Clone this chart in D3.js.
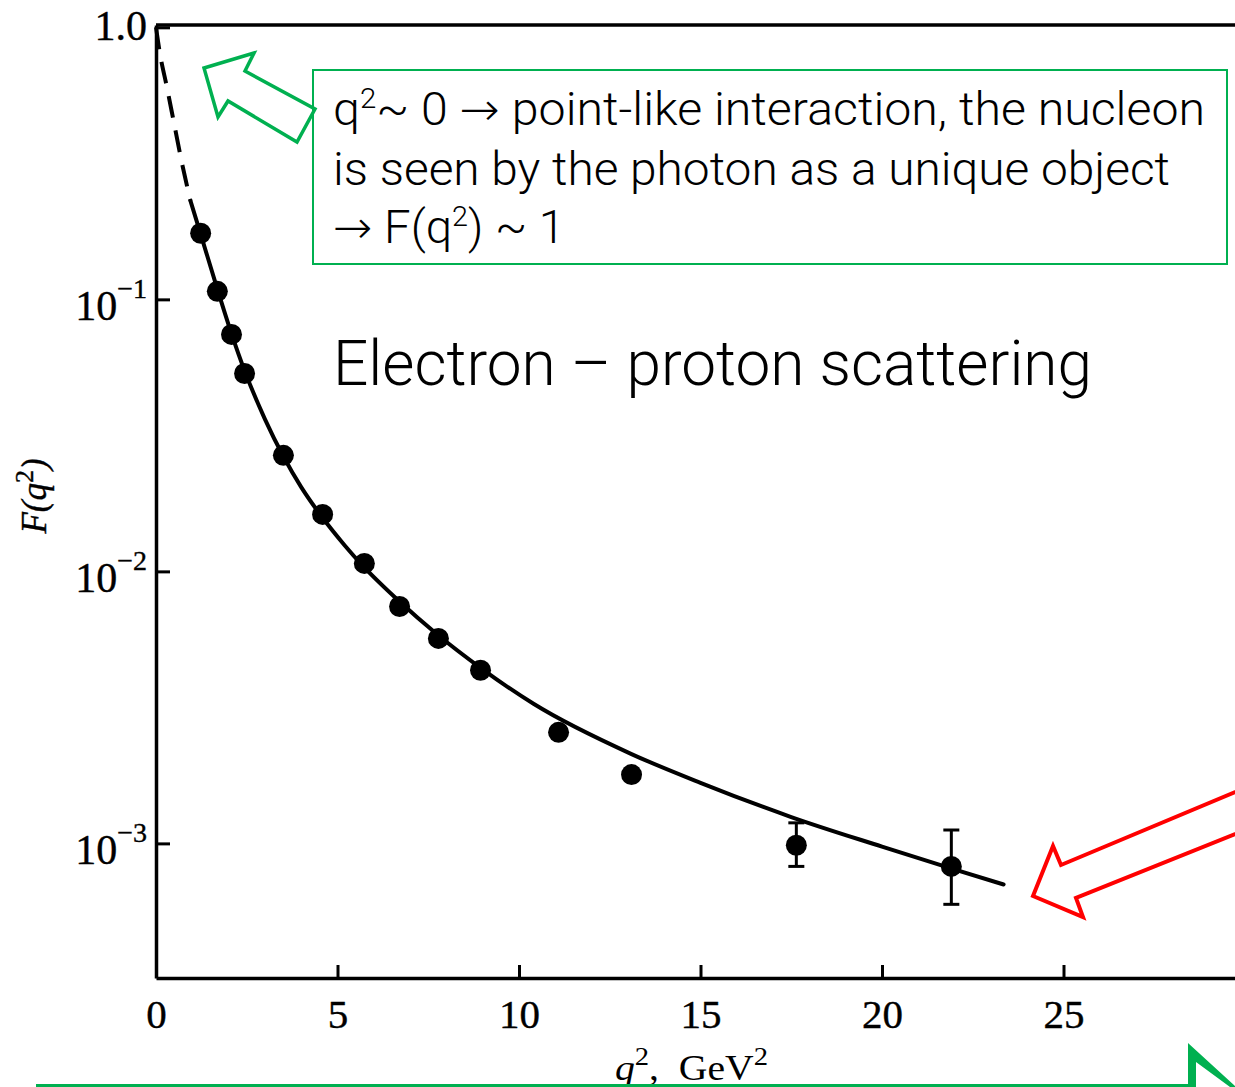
<!DOCTYPE html>
<html>
<head>
<meta charset="utf-8">
<script src="https://cdn.jsdelivr.net/npm/d3@7"></script>
<style>
  body { margin: 0; background: #ffffff; }
  svg { display: block; }
</style>
</head>
<body>
<div id="my_dataviz"></div>
<script>
// measured form factor, q^2 in GeV^2
var q2 = [1.23, 1.69, 2.08, 2.44, 3.51, 4.59, 5.74, 6.71, 7.78, 8.94, 11.09, 13.10, 17.64, 21.91]
var formFactor = [0.175, 0.107, 0.0743, 0.0534, 0.0267, 0.0162, 0.0107, 0.00743, 0.00567, 0.00433, 0.00256, 0.00179, 0.000984, 0.000823]
// error bars (only the two last points have visible ones)
var errLow = [null, null, null, null, null, null, null, null, null, null, null, null, 0.000823, 0.000597]
var errHigh = [null, null, null, null, null, null, null, null, null, null, null, null, 0.00119, 0.00112]

// solid curve
var fitQ2 = [0.95, 1.23, 1.69, 2.07, 2.44, 3.0, 3.5, 4.0, 4.6, 5.2, 5.7, 6.7, 7.75, 8.94, 10.4, 13.1, 15.0, 17.5, 20.0, 21.9, 23.35]
var fitF = [0.2301, 0.1738, 0.1091, 0.0755, 0.0547, 0.0363, 0.0266, 0.0204, 0.01567, 0.01245, 0.01047, 0.00776, 0.00586, 0.00442, 0.00326, 0.00213, 0.00167, 0.00125, 0.000973, 0.000809, 0.000706]
// dashed extrapolation down to q^2 = 0
var extrapQ2 = [0, 0.1, 0.3, 0.5, 0.7, 0.95]
var extrapF = [1.0, 0.813, 0.603, 0.442, 0.324, 0.2301]

var xTicks = [0, 5, 10, 15, 20, 25]
var yTicks = [1, 0.1, 0.01, 0.001]
var yTickBase = ["1.0", "10", "10", "10"]
var yTickExp = ["", "\u22121", "\u22122", "\u22123"]

var width = 1235
    height = 1087

var svg = d3.select("#my_dataviz")
  .append("svg")
    .attr("width", width)
    .attr("height", height)

var x = d3.scaleLinear()
  .domain([0, 30])
  .range([156, 156 + 30 * 36.3])

var y = d3.scaleLog()
  .domain([3.2e-4, 1.02])
  .range([978, 25])

var serif = "'Liberation Serif', 'Times New Roman', serif"
var sans = "Roboto, 'Liberation Sans', Arial, sans-serif"
var green = "#00b050"

// top edge of the frame
svg.append("line")
  .attr("x1", x(0))
  .attr("x2", width + 10)
  .attr("y1", y(1.02))
  .attr("y2", y(1.02))
  .style("stroke", "#000")
  .style("stroke-width", 3.5)

// y axis, ticks pointing inward
var yAxis = svg.append("g")
  .attr("transform", "translate(" + x(0) + ",0)")
  .call(d3.axisLeft(y).tickValues(yTicks).tickSizeInner(-14).tickSizeOuter(0).tickFormat(""))
yAxis.select(".domain").style("stroke-width", 3.5)
yAxis.selectAll(".tick line").style("stroke-width", 3)

// x axis
var xAxis = svg.append("g")
  .attr("transform", "translate(0," + y(3.2e-4) + ")")
  .call(d3.axisBottom(x).tickValues(xTicks).tickSizeInner(-13).tickSizeOuter(0).tickPadding(21).tickFormat(d3.format("d")))
xAxis.select(".domain").style("stroke-width", 3.5)
xAxis.selectAll(".tick line").style("stroke-width", 3)
xAxis.selectAll(".tick text")
  .style("font-family", serif)
  .style("font-size", "41px")
  .style("fill", "#000")
  .style("stroke", "#000")
  .style("stroke-width", 0.4)

// y tick labels with exponents
var yLab = svg.selectAll("ylabels")
  .data(yTicks)
  .enter()
  .append("text")
    .attr("x", 147)
    .attr("y", function(d, i){ return i == 0 ? y(d) + 13 : y(d) + 21 })
    .attr("text-anchor", "end")
    .style("font-family", serif)
    .style("font-size", "42px")
    .style("stroke", "#000")
    .style("stroke-width", 0.4)
yLab.append("tspan")
  .text(function(d, i){ return yTickBase[i] })
yLab.append("tspan")
  .attr("dy", -22)
  .style("font-size", "28px")
  .text(function(d, i){ return yTickExp[i] })

// axis titles
var yTitle = svg.append("text")
  .attr("transform", "translate(46,496) rotate(-90)")
  .attr("text-anchor", "middle")
  .style("font-family", serif)
  .style("font-style", "italic")
  .style("font-size", "35px")
  .style("stroke", "#000")
  .style("stroke-width", 0.4)
yTitle.append("tspan").text("F(q")
yTitle.append("tspan").attr("dy", -13).style("font-size", "26px").style("font-style", "normal").text("2")
yTitle.append("tspan").attr("dy", 13).text(")")

var xTitle = svg.append("text")
  .attr("x", 615)
  .attr("y", 1080)
  .attr("textLength", 153)
  .attr("lengthAdjust", "spacingAndGlyphs")
  .style("font-family", serif)
  .style("font-size", "36px")
xTitle.append("tspan").style("font-style", "italic").text("q")
xTitle.append("tspan").attr("dy", -15).style("font-size", "26px").text("2")
xTitle.append("tspan").attr("dy", 15).text(",\u00a0\u00a0GeV")
xTitle.append("tspan").attr("dy", -15).style("font-size", "26px").text("2")

// dashed extrapolation and solid curve
var line = d3.line()
  .x(function(d){ return x(d[0]) })
  .y(function(d){ return y(d[1]) })
  .curve(d3.curveMonotoneX)

svg.append("path")
  .datum(d3.zip(extrapQ2, extrapF))
  .attr("d", line)
  .style("fill", "none")
  .style("stroke", "#000")
  .style("stroke-width", 4)
  .style("stroke-dasharray", "22,13")

svg.append("path")
  .datum(d3.zip(fitQ2, fitF))
  .attr("d", line)
  .style("fill", "none")
  .style("stroke", "#000")
  .style("stroke-width", 4)
  .style("stroke-linecap", "round")

// error bars
var errData = q2.map(function(d, i){ return {x: d, lo: errLow[i], hi: errHigh[i]} })
  .filter(function(d){ return d.lo != null })
var eb = svg.selectAll("errbars")
  .data(errData)
  .enter()
  .append("g")
    .style("stroke", "#000")
    .style("stroke-width", 3)
eb.append("line")
  .attr("x1", function(d){ return x(d.x) })
  .attr("x2", function(d){ return x(d.x) })
  .attr("y1", function(d){ return y(d.lo) })
  .attr("y2", function(d){ return y(d.hi) })
eb.append("line")
  .attr("x1", function(d){ return x(d.x) - 8 })
  .attr("x2", function(d){ return x(d.x) + 8 })
  .attr("y1", function(d){ return y(d.lo) })
  .attr("y2", function(d){ return y(d.lo) })
eb.append("line")
  .attr("x1", function(d){ return x(d.x) - 8 })
  .attr("x2", function(d){ return x(d.x) + 8 })
  .attr("y1", function(d){ return y(d.hi) })
  .attr("y2", function(d){ return y(d.hi) })

// data points
svg.selectAll("mydots")
  .data(d3.zip(q2, formFactor))
  .enter()
  .append("circle")
    .attr("cx", function(d){ return x(d[0]) })
    .attr("cy", function(d){ return y(d[1]) })
    .attr("r", 10.5)
    .style("fill", "#000")

// annotation box
svg.append("rect")
  .attr("x", 313)
  .attr("y", 70)
  .attr("width", 914)
  .attr("height", 194)
  .style("fill", "none")
  .style("stroke", green)
  .style("stroke-width", 2)

var note = [
  {y: 125, w: 872, parts: [["q", 0], ["2", 1], ["~ 0 ", 0], ["\u2192", 2], [" point-like interaction, the nucleon", 0]]},
  {y: 185, w: 837, parts: [["is seen by the photon as a unique object", 0]]},
  {y: 243, w: 232, parts: [["\u2192", 2], [" F(q", 0], ["2", 1], [") ~ 1", 0]]}
]
note.forEach(function(n){
  var t = svg.append("text")
    .attr("x", 333)
    .attr("y", n.y)
    .attr("textLength", n.w)
    .attr("lengthAdjust", "spacingAndGlyphs")
    .style("font-family", sans)
    .style("font-weight", 300)
    .style("font-size", "46px")
    .style("fill", "#000")
  var up = false
  n.parts.forEach(function(p){
    var sup = p[1] == 1
    var dy = sup ? -17 : (up ? 17 : 0)
    up = sup
    t.append("tspan")
      .attr("dy", dy)
      .style("font-size", sup ? "28px" : "46px")
      .style("font-family", p[1] == 2 ? "'DejaVu Sans', sans-serif" : null)
      .style("font-weight", p[1] == 2 ? 200 : null)
      .text(p[0])
  })
})

svg.append("text")
  .attr("x", 333)
  .attr("y", 385)
  .attr("textLength", 759)
  .attr("lengthAdjust", "spacingAndGlyphs")
  .style("font-family", sans)
  .style("font-weight", 300)
  .style("font-size", "63px")
  .style("fill", "#000")
  .text("Electron \u2013 proton scattering")

// hollow arrows
var poly = d3.line().curve(d3.curveLinearClosed)

svg.append("path")
  .attr("d", poly([[204, 68], [254, 53], [245, 71], [315, 109], [297, 142], [228, 101], [218, 117]]))
  .style("fill", "none")
  .style("stroke", green)
  .style("stroke-width", 3.5)
  .style("stroke-linejoin", "miter")

svg.append("path")
  .attr("d", poly([[1033, 896], [1053, 846], [1061, 865], [1300, 765], [1300, 808], [1076, 898], [1083, 917]]))
  .style("fill", "none")
  .style("stroke", "#ff0000")
  .style("stroke-width", 4)

// green pieces along the bottom edge
svg.append("line")
  .attr("x1", 36)
  .attr("x2", 1190)
  .attr("y1", 1085.5)
  .attr("y2", 1085.5)
  .style("stroke", green)
  .style("stroke-width", 3)

svg.append("path")
  .attr("d", poly([[1188, 1043], [1236, 1087], [1230, 1087], [1196, 1062], [1196, 1087], [1188, 1087]]))
  .style("fill", green)
</script>
</body>
</html>
